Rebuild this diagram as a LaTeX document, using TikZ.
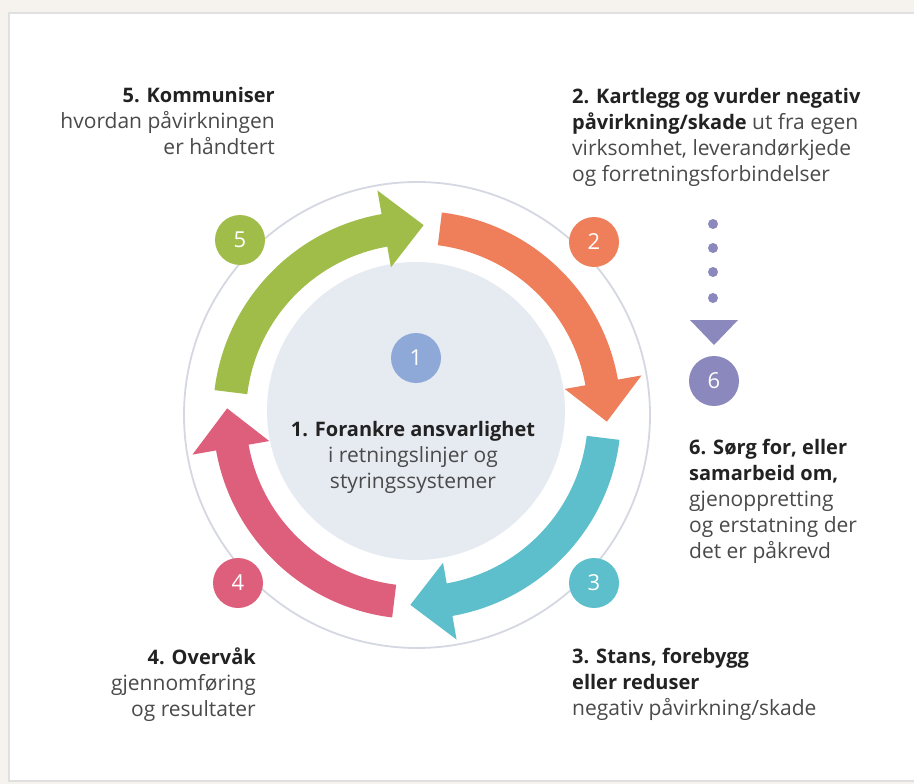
\documentclass[tikz,border=0pt]{standalone}
\usepackage{fontspec}
\setmainfont{Open Sans}

\definecolor{pagebg}{HTML}{F6F2EE}
\definecolor{arrgreen}{HTML}{A0BD4A}
\definecolor{arrorange}{HTML}{EF7F5B}
\definecolor{arrcyan}{HTML}{5DBFCB}
\definecolor{arrpink}{HTML}{DE5F7C}
\definecolor{blueone}{HTML}{8EA8D8}
\definecolor{purplesix}{HTML}{8A88BC}
\definecolor{coregrey}{HTML}{E6EAF1}
\definecolor{ringgrey}{HTML}{D5D8E2}
\definecolor{txtdark}{HTML}{222222}
\definecolor{txtgrey}{HTML}{4A4A4A}

\newcommand{\bhead}[1]{{\fontsize{20}{26}\selectfont\bfseries\color{txtdark}#1}}

\begin{document}
\begin{tikzpicture}[x=1pt,y=1pt]
\tikzstyle{num}=[circle,text=white,minimum size=50pt,inner sep=0pt,font=\fontsize{22}{22}\selectfont];
\tikzstyle{txt}=[inner sep=0pt,text=txtgrey,font=\fontsize{21}{26}\selectfont];
% page and panel
\fill[pagebg] (0,0) rectangle (914,-784);
\fill[black!12] (8,-12) rectangle (914,-782);
\fill[white] (10,-14) rectangle (914,-780);
\useasboundingbox (0,0) rectangle (914,-784);

% rings
\node[circle,draw=ringgrey,line width=1.8pt,minimum size=466pt] (ring) at (417,-415) {};
\node[circle,fill=coregrey,minimum size=298pt] (core) at (416,-411) {};

% the four arrows
\begin{scope}[shift={(417,-415)}]
\fill[arrgreen] (173:204) arc[start angle=173,end angle=100,radius=204] -- (100:228) -- (88:190) -- (100:150) -- (100:171) arc[start angle=100,end angle=173,radius=171] -- cycle;
\fill[arrorange] (83:204) arc[start angle=83,end angle=10,radius=204] -- (10:228) -- (-2:190) -- (10:150) -- (10:171) arc[start angle=10,end angle=83,radius=171] -- cycle;
\fill[arrcyan] (-7:204) arc[start angle=-7,end angle=-80,radius=204] -- (-80:228) -- (-92:190) -- (-80:150) -- (-80:171) arc[start angle=-80,end angle=-7,radius=171] -- cycle;
\fill[arrpink] (-97:204) arc[start angle=-97,end angle=-170,radius=204] -- (-170:228) -- (-182:190) -- (-170:150) -- (-170:171) arc[start angle=-170,end angle=-97,radius=171] -- cycle;
\end{scope}

% numbers
\node[num,fill=blueone] (n1) at (416,-358) {1};
\node[num,fill=arrorange] (n2) at (594,-242) {2};
\node[num,fill=arrcyan] (n3) at (594,-583) {3};
\node[num,fill=arrpink] (n4) at (238,-583) {4};
\node[num,fill=arrgreen] (n5) at (240,-240) {5};
\node[num,fill=purplesix] (n6) at (714,-381) {6};

% dotted lead to 6
\foreach \y in {224,248,272,298}
  \fill[purplesix] (713,-\y) circle (5);
\fill[purplesix] (690,-320) -- (738,-320) -- (714,-345) -- cycle;

% texts
\node[txt,anchor=north,align=center] (t1) at (413,-421) {\bhead{1. Forankre ansvarlighet}\\i retningslinjer og\\styringssystemer};
\node[txt,anchor=north west,align=left] (t2) at (572,-88) {\bhead{2. Kartlegg og vurder negativ}\\\bhead{påvirkning/skade} ut fra egen\\virksomhet, leverandørkjede\\og forretningsforbindelser};
\node[txt,anchor=north west,align=left] (t3) at (572,-648) {\bhead{3. Stans, forebygg}\\\bhead{eller reduser}\\negativ påvirkning/skade};
\node[txt,anchor=north east,align=right] (t4) at (256,-648) {\bhead{4. Overvåk}\\gjennomføring\\og resultater};
\node[txt,anchor=north east,align=right] (t5) at (275,-87) {\bhead{5. Kommuniser}\\hvordan påvirkningen\\er håndtert};
\node[txt,anchor=north west,align=left] (t6) at (689,-439) {\bhead{6. Sørg for, eller}\\\bhead{samarbeid om,}\\gjenoppretting\\og erstatning der\\det er påkrevd};
\end{tikzpicture}
\end{document}
